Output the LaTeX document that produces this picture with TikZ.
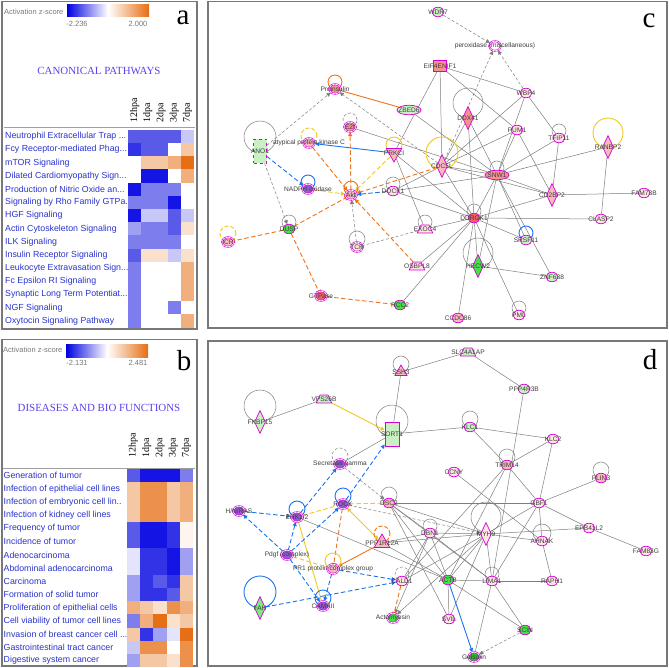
\documentclass[tikz,border=0pt]{standalone}
\usepackage{fontspec}
\setmainfont{Liberation Serif}
\setsansfont{Liberation Sans}
\usetikzlibrary{shapes.geometric,arrows.meta}

\newcommand{\trunc}{...}

\definecolor{fgray}{RGB}{120,120,120}
\definecolor{egray}{RGB}{125,125,125}
\definecolor{lblgray}{RGB}{60,60,60}
\definecolor{rowblue}{RGB}{40,50,205}
\definecolor{ttlblue}{RGB}{90,65,235}
\definecolor{cbblue}{RGB}{0,0,225}
\definecolor{cborange}{RGB}{230,110,20}
% heat map shades
\definecolor{B0}{RGB}{20,20,228}
\definecolor{B1}{RGB}{50,50,230}
\definecolor{B2}{RGB}{90,90,232}
\definecolor{B3}{RGB}{125,125,238}
\definecolor{B4}{RGB}{160,160,242}
\definecolor{B5}{RGB}{200,200,247}
\definecolor{B6}{RGB}{228,228,252}
\definecolor{O0}{RGB}{230,110,20}
\definecolor{O1}{RGB}{236,145,75}
\definecolor{O2}{RGB}{240,175,125}
\definecolor{O3}{RGB}{244,200,165}
\definecolor{O4}{RGB}{250,225,205}
\definecolor{O5}{RGB}{254,245,238}
% network colours
\definecolor{mag}{RGB}{215,0,215}
\definecolor{pinkl}{RGB}{255,226,226}
\definecolor{pinkm}{RGB}{248,185,190}
\definecolor{salmon}{RGB}{245,145,145}
\definecolor{redn}{RGB}{238,100,100}
\definecolor{greenl}{RGB}{200,240,195}
\definecolor{greenb}{RGB}{70,225,70}
\definecolor{purp}{RGB}{145,90,215}
\definecolor{orng}{RGB}{240,115,25}
\definecolor{yel}{RGB}{240,200,30}
\definecolor{blu}{RGB}{25,115,240}

\pgfdeclarelayer{bg}
\pgfsetlayers{bg,main}

\tikzset{
  pframe/.style={draw=fgray, line width=1.3pt},
  rowlbl/.style={font=\sffamily\fontsize{8.8}{10}\selectfont, text=rowblue, anchor=west, inner sep=0pt},
  colhd/.style={font=\rmfamily\fontsize{10}{10}\selectfont, rotate=90, anchor=west, inner sep=0pt},
  ttl/.style={font=\rmfamily\fontsize{10.9}{12}\selectfont, text=ttlblue},
  zlbl/.style={font=\sffamily\fontsize{7.5}{8}\selectfont, text=fgray, inner sep=0pt},
  panel/.style={font=\rmfamily\fontsize{29}{29}\selectfont, inner sep=0pt},
  lbl/.style={font=\sffamily\fontsize{6.6}{7}\selectfont, text=lblgray, inner sep=0pt},
  nm/.style={label={[lbl]center:#1}},
  gene/.style={ellipse, draw=mag, line width=0.7pt, minimum width=12pt, minimum height=9.5pt, inner sep=0pt},
  wide/.style={minimum width=24pt},
  grp/.style={gene, double=white, double distance=0.6pt, line width=0.6pt},
  dia/.style={diamond, draw=mag, line width=0.7pt, minimum width=11pt, minimum height=23pt, inner sep=0pt},
  trap/.style={trapezium, trapezium left angle=65, trapezium right angle=65, draw=mag, line width=0.7pt, inner xsep=4pt, inner ysep=4pt},
  tri/.style={regular polygon, regular polygon sides=3, draw=mag, line width=0.7pt, minimum size=18pt, inner sep=0pt},
  tall/.style={rectangle, draw=mag, line width=0.7pt, minimum width=13pt, minimum height=24pt, inner sep=0pt},
  sq/.style={rectangle, draw=mag, line width=0.7pt, minimum width=13pt, minimum height=11pt, inner sep=0pt},
  ln/.style={draw=egray, line width=0.5pt},
  arr/.style={-{Triangle[length=4pt,width=4pt]}},
  tbar/.style={-{Bar[width=5pt]}},
  gd/.style={draw=egray, line width=0.5pt, dash pattern=on 3pt off 2pt, arr},
  od/.style={draw=orng, line width=0.9pt, dash pattern=on 4.5pt off 2.5pt},
  yd/.style={draw=yel, line width=0.9pt, dash pattern=on 4.5pt off 2.5pt},
  bd/.style={draw=blu, line width=0.9pt, dash pattern=on 4.5pt off 2.5pt, arr},
  lg/.style={draw=egray, line width=0.5pt},
  lgd/.style={lg, dash pattern=on 3pt off 2pt},
  lo/.style={draw=orng, line width=0.9pt},
  lod/.style={lo, dash pattern=on 4pt off 2pt},
  ly/.style={draw=yel, line width=0.9pt},
  lyd/.style={ly, dash pattern=on 4pt off 2pt},
  lb/.style={draw=blu, line width=0.9pt},
}

\begin{document}
\begin{tikzpicture}[x=1pt,y=-1pt]
\useasboundingbox (0,0) rectangle (669,668);

% ---------- panel a ----------
\draw[pframe] (2,1.5) rectangle (197,329);
\node[zlbl, anchor=west] (za) at (4,12) {Activation z-score};
\shade[left color=cbblue, right color=white] (67,5) rectangle (108,17);
\shade[left color=white, right color=cborange] (108,5) rectangle (149,17);
\node[zlbl] (zamin) at (77,24) {-2.236};
\node[zlbl] (zamax) at (138,24) {2.000};
\node[panel] (la) at (183,18) {a};
\node[ttl] (ta) at (99,71) {CANONICAL PATHWAYS};
\foreach \h [count=\k] in {12hpa,1dpa,2dpa,3dpa,7dpa}
  \node[colhd] (ha\k) at ({134.6+(\k-1)*13.2},123) {\h};
\draw[fgray!70, line width=1pt] (4,128) -- (195,128);
\foreach \txt/\cells [count=\r] in {
  Neutrophil Extracellular Trap \trunc/{B2,B2,B2,B2,B5},
  Fcy Receptor-mediated Phag\trunc/{B1,B2,B2,white,O3},
  mTOR Signaling/{white,O3,O3,O2,O0},
  Dilated Cardiomyopathy Sign\trunc/{white,B0,B0,white,O2},
  Production of Nitric Oxide an\trunc/{B0,B3,B3,B3,white},
  Signaling by Rho Family GTPa\trunc/{B3,B3,B3,B0,white},
  HGF Signaling/{B0,B5,B5,B2,B5},
  Actin Cytoskeleton Signaling/{B4,B3,B3,B2,O4},
  ILK Signaling/{B3,B3,B3,B3,white},
  Insulin Receptor Signaling/{B2,O4,O4,B5,O4},
  Leukocyte Extravasation Sign\trunc/{B3,white,white,white,O2},
  Fc Epsilon RI Signaling/{B3,white,white,white,O2},
  Synaptic Long Term Potentiat\trunc/{B3,white,white,white,O2},
  NGF Signaling/{B3,white,white,B3,white},
  Oxytocin Signaling Pathway/{B3,white,white,white,O2}}{
  \node[rowlbl] (ra\r) at (5,{136.5+(\r-1)*13.18}) {\txt};
  \foreach \cc [count=\k] in \cells
    \fill[\cc] ({128+(\k-1)*13.2},{129.9+(\r-1)*13.18}) rectangle ++(13.25,13.23);
}

% ---------- panel b ----------
\draw[pframe] (2,339.5) rectangle (197,666);
\node[zlbl, anchor=west] (zb) at (3,350) {Activation z-score};
\shade[left color=cbblue, right color=white] (66,344) rectangle (107,357);
\shade[left color=white, right color=cborange] (107,344) rectangle (148,357);
\node[zlbl] (zbmin) at (77,363) {-2.131};
\node[zlbl] (zbmax) at (138,363) {2.481};
\node[panel] (lb) at (184,361) {b};
\node[ttl] (tb) at (99,408) {DISEASES AND BIO FUNCTIONS};
\foreach \h [count=\k] in {12hpa,1dpa,2dpa,3dpa,7dpa}
  \node[colhd] (hb\k) at ({133.3+(\k-1)*13.3},458) {\h};
\draw[fgray!70, line width=1pt] (3,468) -- (195,468);
\foreach \txt/\cells [count=\r] in {
  Generation of tumor/{B2,B0,B0,B0,B3},
  Infection of epithelial cell lines/{O3,O1,O1,O3,O2},
  Infection of embryonic cell lin../{O3,O1,O1,O3,O2},
  Infection of kidney cell lines/{O3,O1,O1,O3,O2},
  Frequency of tumor/{B2,B0,B0,B1,O5},
  Incidence of tumor/{B2,B0,B0,B1,O5},
  Adenocarcinoma/{B6,B1,B1,B0,B4},
  Abdominal adenocarcinoma/{B6,B1,B1,B0,B4},
  Carcinoma/{B4,B1,B2,B1,O3},
  Formation of solid tumor/{B4,B1,B1,B2,O3},
  Proliferation of epithelial cells/{O2,O3,O4,O1,O2},
  Cell viability of tumor cell lines/{B3,O2,O0,O4,O3},
  Invasion of breast cancer cell \trunc/{O3,B1,B4,B6,O0},
  Gastrointestinal tract cancer/{B5,O1,O1,white,O1},
  Digestive system cancer/{B4,O3,O3,O4,O1}}{
  \node[rowlbl] (rb\r) at (3.5,{475.7+(\r-1)*13.21}) {\txt};
  \foreach \cc [count=\k] in \cells
    \fill[\cc] ({126.7+(\k-1)*13.3},{469.1+(\r-1)*13.21}) rectangle ++(13.35,13.26);
}

% ---------- panel c ----------
\draw[pframe] (208,1.5) rectangle (667,328);
\node[panel] (lc) at (649,21) {c};

\node[gene, fill=greenl, nm=WDR7] (wdr7) at (438,12) {};
\node[grp, fill=white, nm=peroxidase (miscellaneous)] (perox) at (495,46) {};
\node[sq, fill=salmon, nm=EIF4ENIF1] (eif) at (440,66) {};
\node[gene, fill=pinkl, nm=WBP4] (wbp4) at (526,93) {};
\node[grp, fill=salmon, nm=Proinsulin] (proins) at (335,89) {};
\node[gene, wide, fill=greenl, nm=ZBED6] (zbed6) at (409,110) {};
\node[dia, fill=salmon, nm=DDX41] (ddx41) at (468,118) {};
\node[grp, fill=salmon, nm=E2f] (e2f) at (350,127) {};
\node[gene, fill=pinkl, nm=PUM1] (pum1) at (517,130) {};
\node[gene, fill=pinkl, nm=TFIP11] (tfip11) at (559,138) {};
\node[dia, fill=pinkm, nm=RANBP2] (ranbp2) at (608,147) {};
\node[tall, fill=greenl, dashed, nm=ANO1] (ano1) at (260,151) {};
\node[grp, fill=pinkm, nm=atypical protein kinase C] (apkc) at (309,143) {};
\node[tri, shape border rotate=180, fill=pinkm, nm=PRKCI] (prkci) at (394,153) {};
\node[dia, fill=pinkm, nm=CDC5L] (cdc5l) at (442,166) {};
\node[gene, wide, fill=salmon, nm=SNW1] (snw1) at (497,175) {};
\node[grp, fill=purp, nm=NADPH oxidase] (nadph) at (308,189) {};
\node[grp, fill=pinkm, nm=Akt] (akt) at (351,195) {};
\node[gene, fill=pinkl, nm=DOCK1] (dock1) at (393,191) {};
\node[dia, fill=pinkm, nm=CD2BP2] (cd2bp2) at (552,195) {};
\node[gene, fill=pinkl, nm=FAM73B] (fam73b) at (644,193) {};
\node[gene, fill=redn, nm=DDRGK1] (ddrgk1) at (474,218) {};
\node[gene, fill=pinkl, nm=CLASP2] (clasp2) at (601,219) {};
\node[trap, fill=pinkl, nm=EXOC4] (exoc4) at (425,229) {};
\node[gene, fill=greenb, nm=DUSP] (dusp) at (289,229) {};
\node[gene, fill=greenl, nm=SRSF11] (srsf11) at (526,240) {};
\node[grp, fill=pinkm, nm=ICR] (icr) at (228,242) {};
\node[grp, fill=pinkl, nm=TCR] (tcr) at (357,247) {};
\node[dia, fill=greenb, nm=HECW2] (hecw2) at (478,266) {};
\node[trap, fill=pinkl, nm=OSBPL8] (osbpl8) at (417,266) {};
\node[gene, fill=greenl, nm=ZNF638] (znf638) at (552,277) {};
\node[grp, fill=redn, nm=GTPase] (gtpase) at (321,296) {};
\node[gene, fill=greenb, nm=RCC2] (rcc2) at (400,305) {};
\node[gene, fill=pinkl, nm=PML] (pml) at (519,315) {};
\node[gene, fill=pinkm, nm=CCDC86] (ccdc86) at (458,318) {};

\begin{pgfonlayer}{bg}
\foreach \a/\b in {eif/prkci, eif/cdc5l, eif/wbp4, eif/pum1, zbed6/snw1, e2f/snw1,
    prkci/ddrgk1, prkci/exoc4, ddx41/cdc5l, ddx41/ddrgk1, ddx41/snw1, wbp4/snw1,
    wbp4/cdc5l, wbp4/tfip11, pum1/cdc5l, pum1/snw1, pum1/cd2bp2, tfip11/cd2bp2,
    tfip11/snw1, ranbp2/snw1, ranbp2/clasp2, cdc5l/ddrgk1, cdc5l/snw1, cdc5l/dock1,
    cdc5l/cd2bp2, snw1/cd2bp2, snw1/ddrgk1, snw1/srsf11, snw1/znf638, snw1/hecw2,
    snw1/dock1, cd2bp2/fam73b, cd2bp2/ddrgk1, ddrgk1/clasp2, ddrgk1/srsf11,
    ddrgk1/hecw2, ddrgk1/ccdc86, ddrgk1/pml, ddrgk1/exoc4, ddrgk1/osbpl8,
    ddrgk1/rcc2, ddrgk1/dock1, hecw2/znf638}
  \draw[ln] (\a) -- (\b);
\foreach \a/\b in {ano1/proins, cdc5l/proins, wdr7/perox, cdc5l/perox, wbp4/perox,
    ano1/dusp, tcr/akt}
  \draw[gd] (\a) -- (\b);
\draw[gd, -] (exoc4) -- (tcr);
\draw[orng, line width=0.9pt] (proins) -- (zbed6);
\foreach \a/\b in {akt/e2f, apkc/akt, cdc5l/akt, osbpl8/akt}
  \draw[od, arr] (\a) -- (\b);
\foreach \a/\b in {dusp/akt, dusp/icr, dusp/gtpase}
  \draw[od, tbar] (\a) -- (\b);
\draw[od] (gtpase) -- (rcc2);
\draw[yd, arr] (prkci) -- (akt);
\draw[yd, arr] (nadph) -- (akt);
\draw[blu, line width=0.9pt, arr] (prkci) -- (apkc);
\draw[bd] (ano1) -- (nadph);
\draw[bd] (dock1) -- (akt);
% self loops
\foreach \n/\s/\r in {tfip11/7/7, snw1/7/7, dock1/7/7, ddrgk1/7/7, exoc4/7/7, dusp/7/7,
    tcr/8/8, pml/7/7, ano1/14/16, ddx41/15/15, hecw2/13/15}
  \draw[lg] ([yshift=\s pt]\n.center) circle (\r pt);
\draw[lgd] ([yshift=7pt]e2f.center) circle (7pt);
\foreach \n/\s/\r in {proins/7/7, akt/7/7}
  \draw[lo] ([yshift=\s pt]\n.center) circle (\r pt);
\foreach \n/\s/\r in {prkci/8/8, ranbp2/14/15, cdc5l/13/16}
  \draw[ly] ([yshift=\s pt]\n.center) circle (\r pt);
\foreach \n/\s/\r in {apkc/7/8, icr/8/8}
  \draw[lyd] ([yshift=\s pt]\n.center) circle (\r pt);
\foreach \n/\s/\r in {nadph/7/7, srsf11/7/7}
  \draw[lb] ([yshift=\s pt]\n.center) circle (\r pt);
\end{pgfonlayer}

% ---------- panel d ----------
\draw[pframe] (208,341) rectangle (667,666);
\node[panel] (ld) at (650,360) {d};

\node[trap, fill=greenl, nm=SLC4A1AP] (slc4a1ap) at (468,352) {};
\node[tri, minimum size=14pt, fill=pinkm, nm=SSH3] (ssh3) at (401,372) {};
\node[gene, fill=greenl, nm=PPP4R3B] (ppp4r3b) at (524,389) {};
\node[trap, fill=greenl, nm=VPS26B] (vps26b) at (324,399) {};
\node[dia, fill=greenl, nm=FKBP15] (fkbp15) at (260,422) {};
\node[gene, fill=greenl, nm=KLC1] (klc1) at (470,427) {};
\node[tall, fill=greenl, minimum width=14pt, nm=SORT1] (sort1) at (392,434) {};
\node[gene, fill=pinkl, nm=KLC2] (klc2) at (553,439) {};
\node[grp, fill=purp, nm=Secretase gamma] (secg) at (340,464) {};
\node[gene, fill=pinkm, nm=TRIM14] (trim14) at (507,465) {};
\node[gene, fill=pinkl, nm=CCNY] (ccny) at (454,472) {};
\node[gene, fill=pinkm, nm=PLIN3] (plin3) at (601,478) {};
\node[gene, fill=pinkl, nm=GBF1] (gbf1) at (539,503) {};
\node[grp, fill=purp, nm=ROCK] (rock) at (343,504) {};
\node[gene, fill=pinkm, nm=DSC2] (dsc2) at (389,503) {};
\node[grp, fill=purp, nm=H/N/RAS] (hras) at (239,511) {};
\node[grp, fill=purp, nm=ERK1/2] (erk) at (297,517) {};
\node[gene, fill=pinkl, nm=EPB41L2] (epb41l2) at (589,528) {};
\node[gene, fill=pinkl, nm=DBN1] (dbn1) at (430,533) {};
\node[dia, fill=pinkl, nm=MYH9] (myh9) at (486,534) {};
\node[gene, fill=pinkl, nm=AHNAK] (ahnak) at (542,541) {};
\node[tri, fill=pinkm, nm=PPP1R12A] (ppp1r12a) at (382,543) {};
\node[gene, fill=pinkl, nm=FAM83G] (fam83g) at (646,551) {};
\node[grp, fill=purp, nm=Pdgf (complex)] (pdgf) at (287,555) {};
\node[grp, fill=pinkm, nm=PR1 protein complex group] (pr1) at (333,569) {};
\node[gene, fill=pinkl, nm=CALD1] (cald1) at (402,581) {};
\node[gene, fill=greenb, nm=ACTB] (actb) at (448,580) {};
\node[gene, fill=pinkl, nm=LIMA1] (lima1) at (492,581) {};
\node[gene, fill=pinkl, nm=RAPH1] (raph1) at (552,581) {};
\node[grp, fill=purp, nm=CAMKII] (camkii) at (323,606) {};
\node[dia, fill=greenb!70, nm=FAH] (fah) at (260,608) {};
\node[grp, fill=greenb, nm=Actomyosin] (actomyo) at (393,618) {};
\node[gene, fill=pinkl, nm=SVIL] (svil) at (449,619) {};
\node[gene, fill=greenb, nm=SCIN] (scin) at (525,630) {};
\node[grp, fill=greenb!80!black, nm=Gelsolin] (gels) at (474,657) {};

\begin{pgfonlayer}{bg}
\foreach \a/\b in {fkbp15/vps26b, ssh3/sort1, ssh3/slc4a1ap, sort1/klc1, secg/sort1,
    slc4a1ap/ppp4r3b, ppp4r3b/lima1, klc1/klc2, klc1/trim14, klc2/trim14, klc2/gbf1,
    trim14/gbf1, trim14/actb, trim14/cald1, ccny/ahnak, plin3/gbf1, gbf1/ahnak,
    gbf1/epb41l2, gbf1/myh9, gbf1/lima1, gbf1/dsc2, epb41l2/fam83g, epb41l2/myh9,
    dsc2/myh9, dsc2/lima1, dsc2/actb, dsc2/dbn1, dsc2/svil, dbn1/myh9, dbn1/actb,
    dbn1/lima1, dbn1/cald1, myh9/actb, myh9/lima1, myh9/cald1, myh9/ahnak, myh9/svil,
    ahnak/raph1, lima1/raph1, lima1/actb, lima1/scin, lima1/gels, actb/svil,
    actb/scin, ppp1r12a/myh9, ppp1r12a/dbn1, ppp1r12a/actb, erk/actb}
  \draw[ln] (\a) -- (\b);
\foreach \a/\b in {myh9/actomyo, dbn1/actomyo}
  \draw[ln, arr] (\a) -- (\b);
\foreach \a/\b in {secg/dsc2, scin/gels, rock/myh9}
  \draw[gd] (\a) -- (\b);
\draw[yel, line width=0.9pt, arr] (vps26b) -- (sort1);
\draw[yd] (erk) -- (rock);
\draw[yd] (rock) -- (dsc2);
\draw[yel, line width=0.9pt, {Triangle[length=4pt,width=4pt]}-{Triangle[length=4pt,width=4pt]}] (rock) -- (ppp1r12a);
\draw[yel, line width=0.9pt] (erk) -- (camkii);
\draw[yd] (pdgf) -- (pr1);
\foreach \a/\b in {rock/sort1, erk/secg, hras/erk, pdgf/hras, pdgf/erk, pdgf/rock,
    pdgf/camkii, pr1/cald1, pr1/camkii, fah/cald1}
  \draw[bd] (\a) -- (\b);
\draw[blu, line width=0.9pt, arr] (actb) -- (gels);
\draw[od, tbar] (rock) -- (pr1);
\draw[orng, line width=0.9pt, arr] (ppp1r12a) -- (pr1);
\draw[od, tbar] (cald1) -- (actomyo);
% self loops
\foreach \n/\s/\r in {fkbp15/16/16, ssh3/8/8, sort1/13/16, klc1/8/8, trim14/8/8,
    plin3/8/8, dsc2/8/8, dbn1/7/7, myh9/17/15, ahnak/8/9, lima1/7/7}
  \draw[lg] ([yshift=\s pt]\n.center) circle (\r pt);
\foreach \n/\s/\r in {secg/8/8, cald1/7/7}
  \draw[lgd] ([yshift=\s pt]\n.center) circle (\r pt);
\foreach \n/\s/\r in {rock/8/8, erk/8/8, camkii/8/8, fah/16/16}
  \draw[lb] ([yshift=\s pt]\n.center) circle (\r pt);
\draw[lod] ([yshift=9pt]ppp1r12a.center) circle (8pt);
\draw[ly] ([yshift=8pt]pr1.center) circle (8pt);
\end{pgfonlayer}

\end{tikzpicture}
\end{document}
